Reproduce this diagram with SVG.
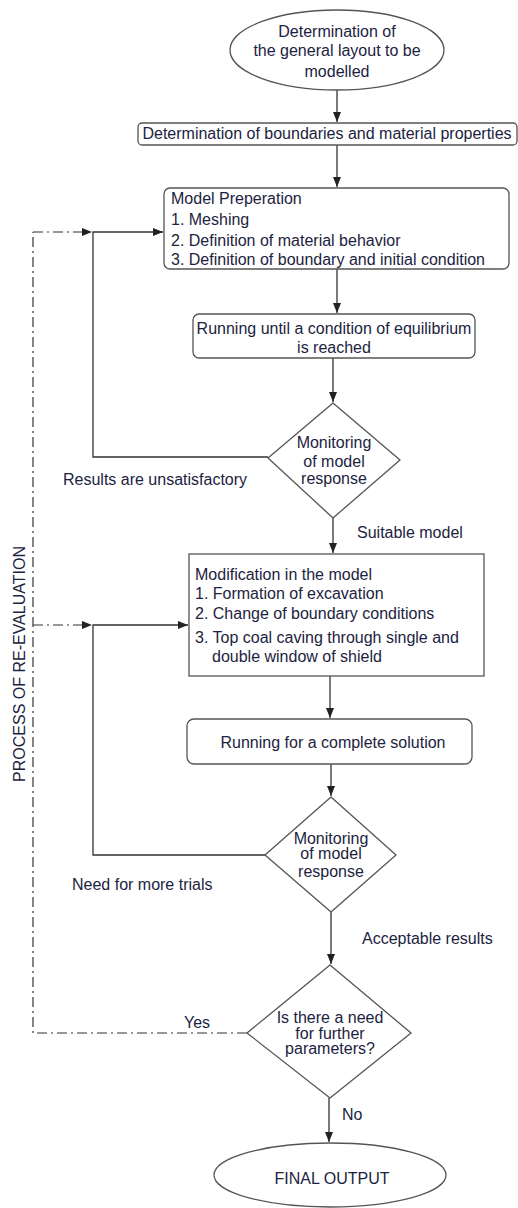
<svg xmlns="http://www.w3.org/2000/svg" width="518" height="1208" viewBox="0 0 518 1208">
<defs>
<marker id="ah" viewBox="0 0 10 10" refX="10" refY="5" markerWidth="10" markerHeight="10" markerUnits="userSpaceOnUse" orient="auto">
<path d="M0,1 L10,5 L0,9 Z" fill="#222"/>
</marker>
<style>
.n{fill:#fff;stroke:#555;stroke-width:1.3}
.t{font-family:"Liberation Sans",Arial,sans-serif;font-size:16px;fill:#1c2340}
.c{text-anchor:middle}
.e{fill:none;stroke:#333;stroke-width:1.3}
.d{fill:none;stroke:#333;stroke-width:1.2;stroke-dasharray:10 4 2 4}
</style>
</defs>
<rect width="518" height="1208" fill="#fff"/>
<g id="connectors">
<line class="e" x1="337" y1="90" x2="337" y2="122" marker-end="url(#ah)"/>
<line class="e" x1="337" y1="145" x2="337" y2="187" marker-end="url(#ah)"/>
<line class="e" x1="337" y1="269" x2="337" y2="313" marker-end="url(#ah)"/>
<line class="e" x1="333" y1="358" x2="333" y2="402" marker-end="url(#ah)"/>
<line class="e" x1="333" y1="518" x2="333" y2="553" marker-end="url(#ah)"/>
<line class="e" x1="330" y1="676" x2="330" y2="718" marker-end="url(#ah)"/>
<line class="e" x1="331" y1="764" x2="331" y2="796" marker-end="url(#ah)"/>
<line class="e" x1="331" y1="912" x2="331" y2="964" marker-end="url(#ah)"/>
<line class="e" x1="329" y1="1098" x2="329" y2="1142" marker-end="url(#ah)"/>
<polyline class="e" points="268,457 93,457 93,232 163,232" marker-end="url(#ah)"/>
<polyline class="e" points="265,855 93,855 93,625 188,625" marker-end="url(#ah)"/>
<polyline class="d" points="247,1033 33,1033 33,232"/>
<line class="d" x1="33" y1="232" x2="92" y2="232" marker-end="url(#ah)"/>
<line class="d" x1="33" y1="625" x2="92" y2="625" marker-end="url(#ah)"/>
<text class="t" x="63" y="485">Results are unsatisfactory</text>
<text class="t" x="357" y="538">Suitable model</text>
<text class="t" x="72" y="890">Need for more trials</text>
<text class="t" x="362" y="944">Acceptable results</text>
<text class="t" x="184" y="1028">Yes</text>
<text class="t" x="342" y="1120">No</text>
<text class="t c" transform="translate(25,664) rotate(-90)">PROCESS OF RE-EVALUATION</text>
</g>
<g id="start">
<ellipse class="n" cx="337" cy="50" rx="107" ry="40"/>
<text class="t c" x="337" y="37">Determination of</text>
<text class="t c" x="337" y="56">the general layout to be</text>
<text class="t c" x="337" y="77">modelled</text>
</g>
<g id="boundaries">
<rect class="n" x="138" y="123" width="379" height="22" rx="4"/>
<text class="t c" x="327" y="139">Determination of boundaries and material properties</text>
</g>
<g id="preparation">
<rect class="n" x="164" y="188" width="345" height="81" rx="6"/>
<text class="t" x="171" y="204">Model Preperation</text>
<text class="t" x="171" y="225">1. Meshing</text>
<text class="t" x="171" y="246">2. Definition of material behavior</text>
<text class="t" x="171" y="265">3. Definition of boundary and initial condition</text>
</g>
<g id="equilibrium">
<rect class="n" x="193" y="314" width="282" height="44" rx="6"/>
<text class="t c" x="334" y="334">Running until a condition of equilibrium</text>
<text class="t c" x="334" y="353">is reached</text>
</g>
<g id="monitor1">
<path class="n" d="M333,403 L400,460 L333,518 L268,458 Z" stroke-linejoin="round"/>
<text class="t c" x="334" y="448">Monitoring</text>
<text class="t c" x="334" y="467">of model</text>
<text class="t c" x="334" y="484">response</text>
</g>
<g id="modification">
<rect class="n" x="189" y="554" width="295" height="122"/>
<text class="t" x="195" y="580">Modification in the model</text>
<text class="t" x="195" y="599">1. Formation of excavation</text>
<text class="t" x="195" y="619">2. Change of boundary conditions</text>
<text class="t" x="195" y="643">3. Top coal caving through single and</text>
<text class="t" x="212" y="662">double window of shield</text>
</g>
<g id="complete">
<rect class="n" x="187" y="719" width="285" height="45" rx="7"/>
<text class="t c" x="333" y="748">Running for a complete solution</text>
</g>
<g id="monitor2">
<path class="n" d="M331,797 L396,855 L331,912 L265,855 Z" stroke-linejoin="round"/>
<text class="t c" x="331" y="844">Monitoring</text>
<text class="t c" x="331" y="859">of model</text>
<text class="t c" x="331" y="877">response</text>
</g>
<g id="further">
<path class="n" d="M330,965 L411,1033 L330,1098 L247,1033 Z" stroke-linejoin="round"/>
<text class="t c" x="330" y="1023">Is there a need</text>
<text class="t c" x="330" y="1039">for further</text>
<text class="t c" x="330" y="1054">parameters?</text>
</g>
<g id="final">
<ellipse class="n" cx="330" cy="1175" rx="116" ry="32"/>
<text class="t c" x="332" y="1184">FINAL OUTPUT</text>
</g>
</svg>
